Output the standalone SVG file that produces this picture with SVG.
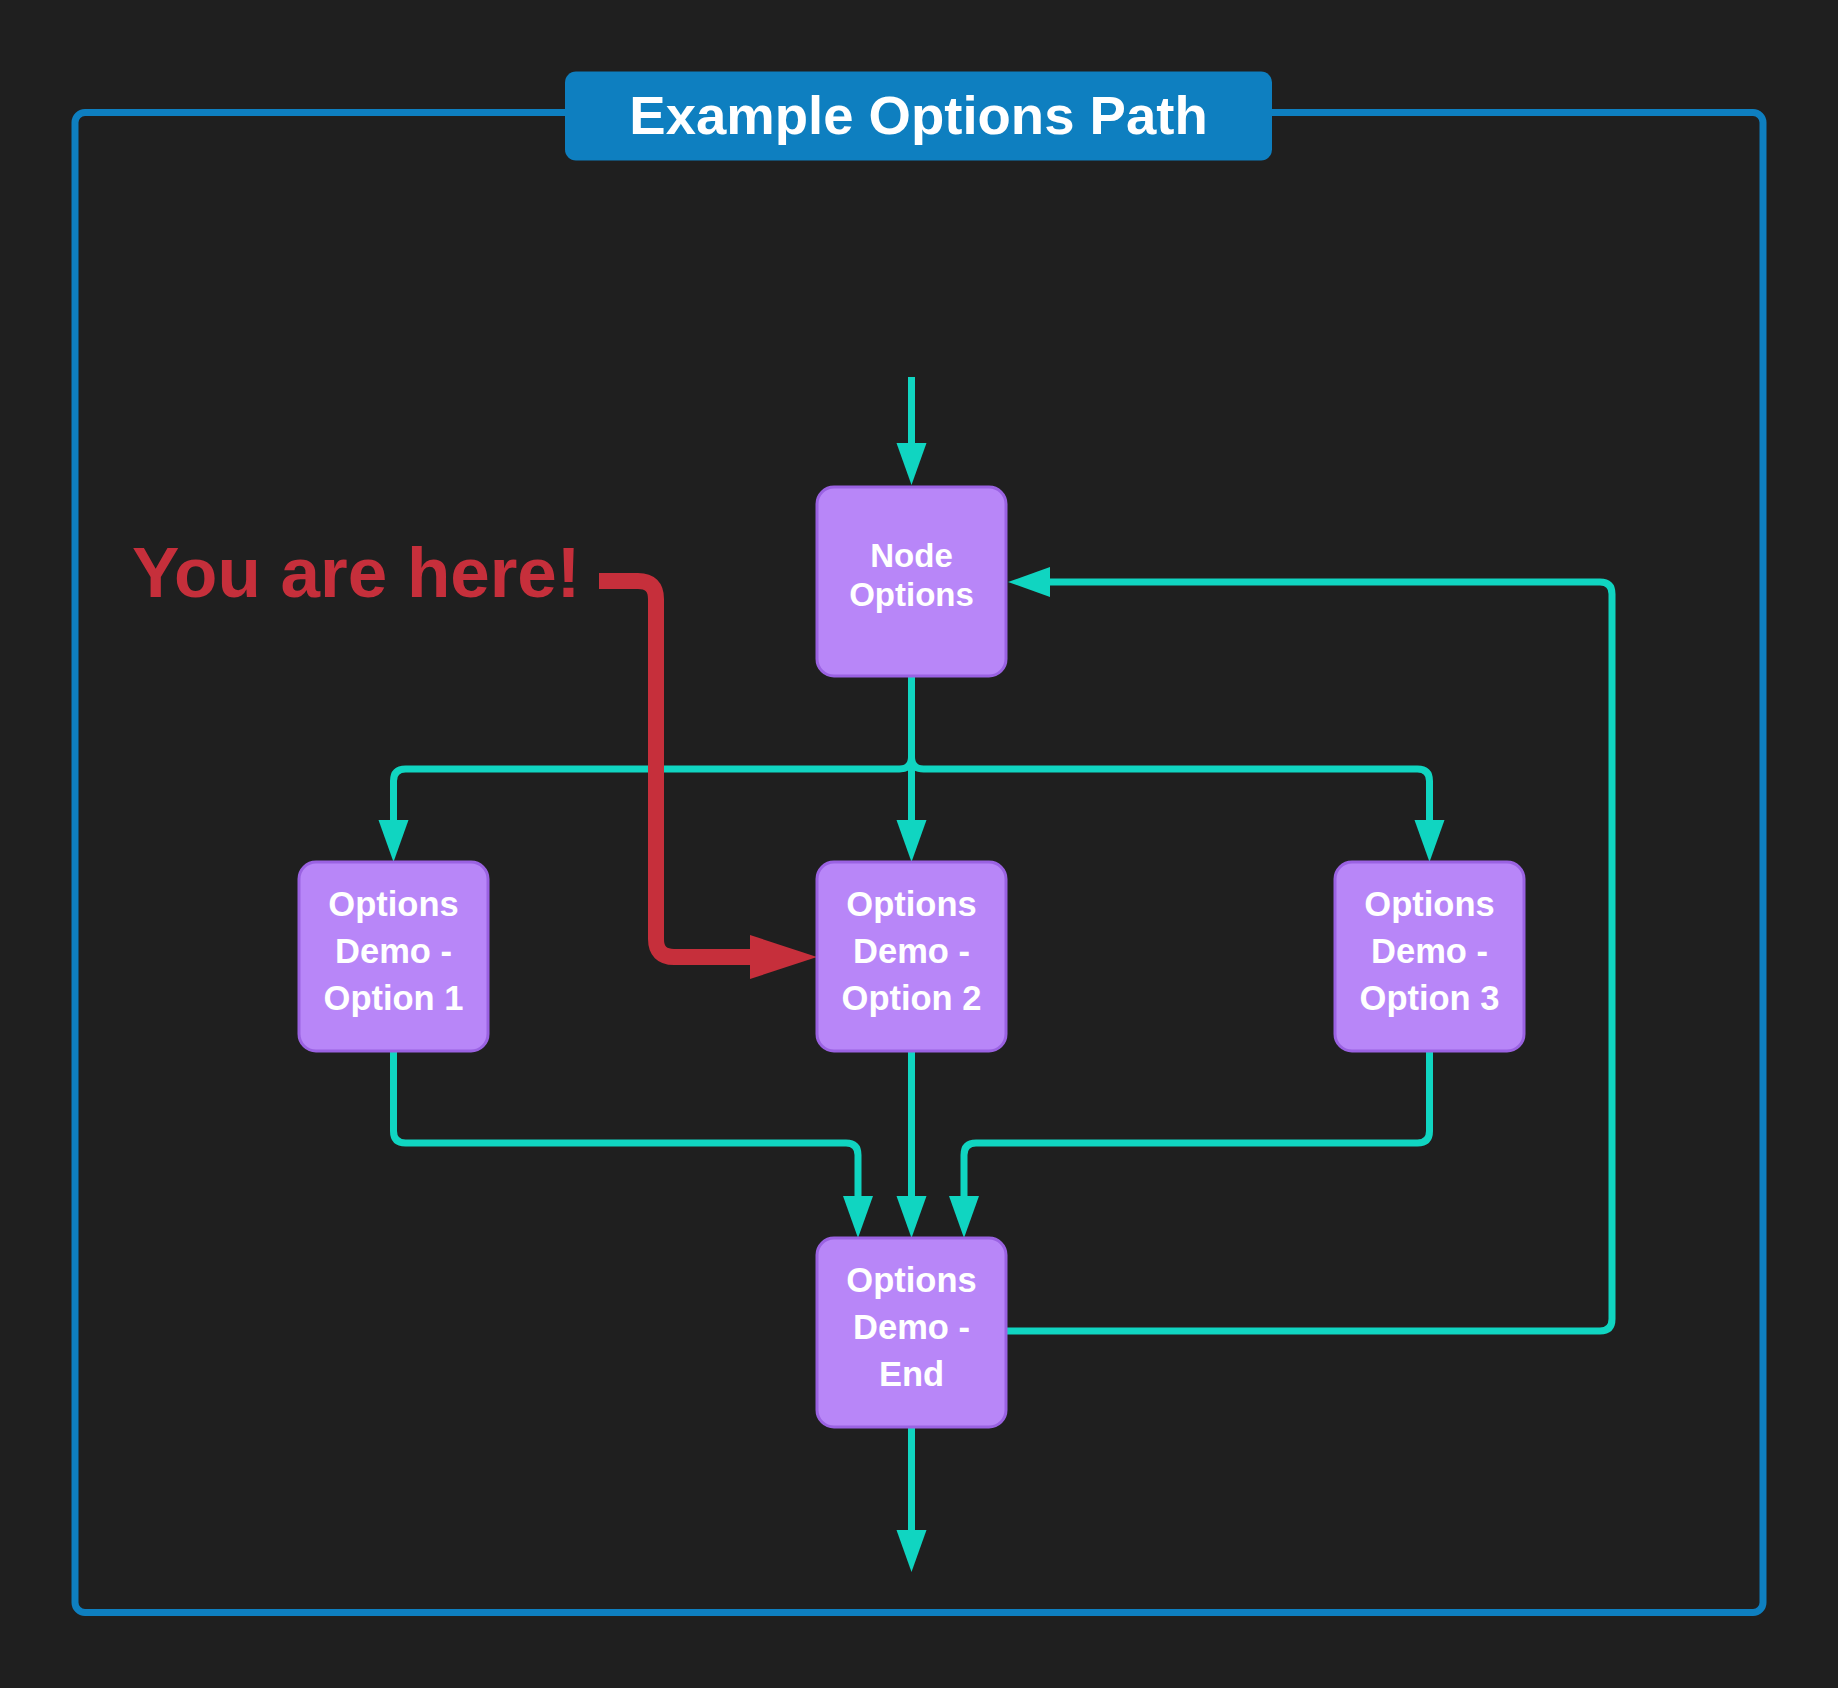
<svg xmlns="http://www.w3.org/2000/svg" width="1838" height="1688" viewBox="0 0 1838 1688">
  <style>
    .node rect { fill: #b886f8; stroke: #9a62e2; stroke-width: 3; }
    .node text { font-family: "Liberation Sans", Arial, sans-serif; font-weight: bold; fill: #ffffff; text-anchor: middle; }
    .conn { fill: none; stroke: #10d5c1; stroke-width: 7; stroke-linejoin: round; }
  </style>
  <defs>
    <marker id="ah" markerUnits="userSpaceOnUse" markerWidth="42" markerHeight="30" refX="0" refY="15" orient="auto" overflow="visible">
      <path d="M0,0 L42,15 L0,30 Z" fill="#10d5c1"/>
    </marker>
  </defs>
  <rect width="1838" height="1688" fill="#1f1f1f"/>

  <g id="frame">
    <rect x="75" y="112.5" width="1688" height="1500" rx="10" fill="none" stroke="#0e7fc0" stroke-width="7"/>
    <rect x="565" y="71.5" width="707" height="89" rx="11" fill="#0e7fc0"/>
    <text x="918.5" y="134" font-family="Liberation Sans, Arial, sans-serif" font-weight="bold" font-size="54.5" fill="#ffffff" text-anchor="middle">Example Options Path</text>
  </g>

  <g id="connectors">
    <path class="conn" d="M911.5 377 V443" marker-end="url(#ah)"/>
    <path class="conn" d="M911.5 676 V820" marker-end="url(#ah)"/>
    <path class="conn" d="M911.5 676 V757 Q911.5 769 899.5 769 H405.5 Q393.5 769 393.5 781 V820" marker-end="url(#ah)"/>
    <path class="conn" d="M911.5 676 V757 Q911.5 769 923.5 769 H1417.5 Q1429.5 769 1429.5 781 V820" marker-end="url(#ah)"/>
    <path class="conn" d="M393.5 1051 V1131 Q393.5 1143 405.5 1143 H846 Q858 1143 858 1155 V1196" marker-end="url(#ah)"/>
    <path class="conn" d="M911.5 1051 V1196" marker-end="url(#ah)"/>
    <path class="conn" d="M1429.5 1051 V1131 Q1429.5 1143 1417.5 1143 H976 Q964 1143 964 1155 V1196" marker-end="url(#ah)"/>
    <path class="conn" d="M1006 1331 H1600 Q1612 1331 1612 1319 V594 Q1612 582 1600 582 H1050" marker-end="url(#ah)"/>
    <path class="conn" d="M911.5 1427 V1530" marker-end="url(#ah)"/>
    <path d="M599 581 H638 Q656 581 656 599 V939 Q656 957 674 957 H752" fill="none" stroke="#c62f3b" stroke-width="16"/>
    <path d="M750 935 L817 957 L750 979 Z" fill="#c62f3b"/>
  </g>

  <g id="you-are-here">
    <text x="132" y="597" font-family="Liberation Sans, Arial, sans-serif" font-weight="bold" font-size="71" fill="#c62f3b">You are here!</text>
  </g>

  <g id="node-options" class="node">
    <rect x="817" y="487" width="189" height="189" rx="17"/>
    <text x="911.5" y="567" font-size="33">Node</text>
    <text x="911.5" y="606" font-size="33">Options</text>
  </g>

  <g id="option-1" class="node">
    <rect x="299" y="862" width="189" height="189" rx="17"/>
    <text x="393.5" y="916" font-size="34.5">Options</text>
    <text x="393.5" y="963" font-size="34.5">Demo -</text>
    <text x="393.5" y="1010" font-size="34.5">Option 1</text>
  </g>

  <g id="option-2" class="node">
    <rect x="817" y="862" width="189" height="189" rx="17"/>
    <text x="911.5" y="916" font-size="34.5">Options</text>
    <text x="911.5" y="963" font-size="34.5">Demo -</text>
    <text x="911.5" y="1010" font-size="34.5">Option 2</text>
  </g>

  <g id="option-3" class="node">
    <rect x="1335" y="862" width="189" height="189" rx="17"/>
    <text x="1429.5" y="916" font-size="34.5">Options</text>
    <text x="1429.5" y="963" font-size="34.5">Demo -</text>
    <text x="1429.5" y="1010" font-size="34.5">Option 3</text>
  </g>

  <g id="options-end" class="node">
    <rect x="817" y="1238" width="189" height="189" rx="17"/>
    <text x="911.5" y="1292" font-size="34.5">Options</text>
    <text x="911.5" y="1339" font-size="34.5">Demo -</text>
    <text x="911.5" y="1386" font-size="34.5">End</text>
  </g>
</svg>
